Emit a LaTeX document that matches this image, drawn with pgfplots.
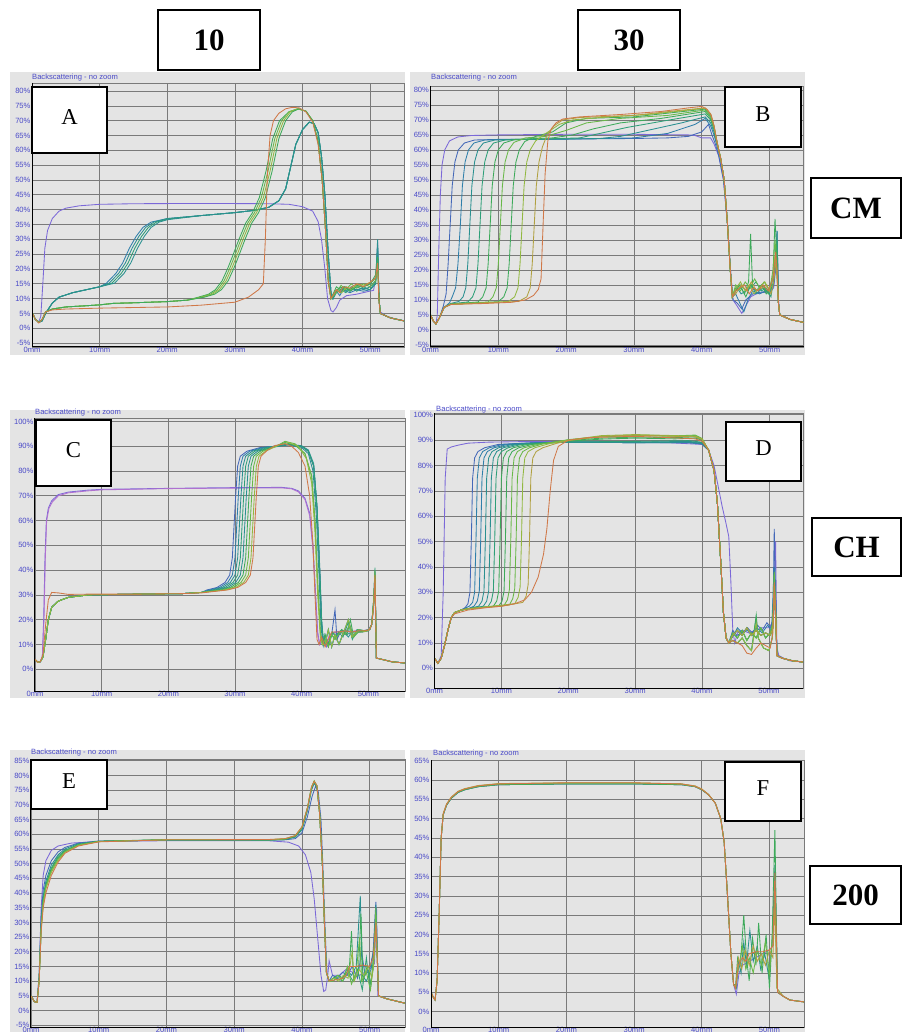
\documentclass[border=0pt]{standalone}
\usepackage{fontspec}
\setmainfont{Liberation Serif}
\newfontfamily\sans{Liberation Sans}
\usepackage{pgfplots}
\pgfplotsset{compat=1.18}

\definecolor{bggray}{HTML}{E4E4E4}
\definecolor{gridc}{HTML}{7A7A7A}
\definecolor{tickblue}{HTML}{4A4AC8}
\definecolor{cPu}{HTML}{7B68D8}
\definecolor{cPk}{HTML}{B070D0}
\definecolor{cBl}{HTML}{4468B8}
\definecolor{cSb}{HTML}{2F7FAA}
\definecolor{cTe}{HTML}{2A9090}
\definecolor{cTg}{HTML}{2E9F78}
\definecolor{cGr}{HTML}{3DAA5A}
\definecolor{cLg}{HTML}{68B848}
\definecolor{cYg}{HTML}{92B840}
\definecolor{cOl}{HTML}{B0A040}
\definecolor{cOr}{HTML}{D07848}

\newcommand\tickfont{\sans\fontsize{7.6}{8}\selectfont}

\pgfplotsset{
  turbi/.style={
    scale only axis, anchor=north west,
    xmin=0, xmax=55,
    xtick={0,10,20,30,40,50},
    xticklabels={0mm,10mm,20mm,30mm,40mm,50mm},
    grid=major, major grid style={draw=gridc, line width=0.65pt},
    major tick length=0pt,
    axis line style={draw=gridc, line width=0.65pt},
    tick label style={font=\tickfont, text=tickblue},
    xticklabel style={yshift=3pt},
    yticklabel style={xshift=2pt},
    clip mode=individual,
    every axis plot/.append style={line width=0.85pt},
  },
  pct5/.style={ytick={-5,0,...,85},
    yticklabels={-5\%,0\%,5\%,10\%,15\%,20\%,25\%,30\%,35\%,40\%,45\%,50\%,55\%,60\%,65\%,70\%,75\%,80\%,85\%}},
  pct10/.style={ytick={0,10,...,100},
    yticklabels={0\%,10\%,20\%,30\%,40\%,50\%,60\%,70\%,80\%,90\%,100\%}},
}

\newcommand\blackframe{\draw[black, line width=1pt] (rel axis cs:0,1) -- (rel axis cs:0,0) -- (rel axis cs:1,0);}

\begin{document}
\begin{tikzpicture}
\path[use as bounding box] (0pt,0pt) rectangle (902pt,-1032pt);

% grey windows
\fill[bggray] (10pt,-72pt) rectangle (405pt,-355pt);
\fill[bggray] (410pt,-72pt) rectangle (805pt,-355pt);
\fill[bggray] (10pt,-410pt) rectangle (405pt,-698pt);
\fill[bggray] (410pt,-410pt) rectangle (805pt,-698pt);
\fill[bggray] (10pt,-750pt) rectangle (405pt,-1032pt);
\fill[bggray] (410pt,-750pt) rectangle (805pt,-1032pt);

\foreach \tx/\ty in {32/77.5, 431/77.5, 35/413, 436/410, 31/752.5, 433/754}
  \node[anchor=west, font=\tickfont, text=tickblue, inner sep=0] at (\tx pt,-\ty pt) {Backscattering - no zoom};

% ---------------- A ----------------
\begin{axis}[turbi, pct5, at={(32pt,-83pt)}, width=372pt, height=264pt, ymin=-6.3, ymax=82.7]
\addplot[cPu] coordinates {(0,5.5)(0.5,3)(1,2.2)(1.3,4)(1.6,15)(1.9,27)(2.3,33)(3,37)(4,39.5)(5,40.5)(7,41.3)(10,41.8)(15,42)(25,42.1)(35,42)(38,41.8)(40,41)(41.5,39.5)(42.3,36)(42.8,30)(43.3,20)(43.7,10)(44.2,6)(44.5,5.5)(45,7)(45.5,9.5)(46.5,11)(48,11.5)(49.5,12.3)(50.5,12.8)(50.9,18)(51.1,29)(51.3,10)(51.5,5.5)(52.5,4)(54,3)(55,2.6)};
\addplot[cSb] coordinates {(0,5.5)(0.5,3)(1,2)(1.5,2.5)(2,5)(3,8.5)(4,10.5)(6,12)(8,13)(10,14)(11,15.2)(12.4,18.5)(13.4,22)(14.4,27)(15.4,31)(16.4,34)(17.6,35.8)(20,37)(25,38)(30,39)(33,39.8)(35,40.8)(36.5,43)(37.5,47)(38.3,55)(39,62)(40,67)(41,69.5)(41.7,69)(42.3,66)(42.8,58)(43.3,45)(43.8,25)(44.2,12)(44.5,10)(45,12.5)(45.5,11)(46,13)(47,12)(48,13)(49,12.5)(50,13)(50.8,15)(51.1,27)(51.3,10)(51.5,5)(53,3.5)(55,2.5)};
\addplot[cTe] coordinates {(0,5.5)(0.5,3)(1,2)(1.5,2.5)(2,5)(3,8.5)(4,10.5)(6,12)(8,13)(10,14)(11.4,15.2)(12.8,18.5)(13.8,22)(14.8,27)(15.8,31)(16.8,34)(18,35.8)(20,37)(25,38)(30,39)(33,39.8)(35,40.8)(36.5,43)(37.5,47)(38.3,55)(39,62)(40,67)(41,69.5)(41.7,69)(42.3,66)(42.8,58)(43.3,45)(43.8,25)(44.2,12)(44.5,10)(45,13)(45.6,12)(46.2,14)(47,12.5)(48,14)(49,13)(50,14)(50.8,16)(51.1,30)(51.3,10)(51.5,5)(53,3.5)(55,2.5)};
\addplot[cTg] coordinates {(0,5.5)(0.5,3)(1,2)(1.5,2.5)(2,5)(3,8.5)(4,10.5)(6,12)(8,13)(10,14)(11.8,15.2)(13.2,18.5)(14.2,22)(15.2,27)(16.2,31)(17.2,34)(18.4,35.8)(20,36.8)(25,38)(30,39)(33,39.8)(35,40.8)(36.5,43)(37.5,47)(38.3,55)(39,62)(40,67)(41,69.5)(41.7,69)(42.3,66)(42.8,58)(43.3,45)(43.8,25)(44.2,12)(44.5,10)(45,12)(45.7,13)(46.4,12)(47.2,14)(48,12.5)(49,14)(50,13)(50.8,15)(51.1,26)(51.3,10)(51.5,5)(53,3.5)(55,2.5)};
\addplot[cTe] coordinates {(0,5.5)(0.5,3)(1,2)(1.5,2.5)(2,5)(3,8.5)(4,10.5)(6,12)(8,13)(10,14)(12.2,15.2)(13.6,18.5)(14.6,22)(15.6,27)(16.6,31)(17.6,34)(18.8,35.8)(20,36.6)(25,38)(30,39)(33,39.8)(35,40.8)(36.5,43)(37.5,47)(38.3,55)(39,62)(40,67)(41,69.5)(41.7,69)(42.3,66)(42.8,58)(43.3,45)(43.8,25)(44.2,12)(44.5,10)(45,12.5)(45.6,14)(46.3,12.5)(47,13.5)(48,13)(49,13.5)(50,13)(50.8,16)(51.1,28)(51.3,10)(51.5,5)(53,3.5)(55,2.5)};
\addplot[cGr] coordinates {(0,5.5)(0.5,3)(1,2)(1.5,3)(2,5.5)(3,6.5)(5,7.2)(8,7.6)(10,7.9)(12,8.4)(15,8.6)(20,9)(23,9.5)(24.6,10.5)(26.1,11.5)(27.1,13)(28.1,16)(28.9,20)(29.6,24)(30.6,30)(31.6,35.5)(32.6,39)(33.6,44)(34.6,53)(35.6,64)(36.6,70)(38,73)(39.3,74)(40.5,73.2)(41.5,70)(42.3,63)(42.9,50)(43.4,33)(43.8,16)(44.2,10)(45,13)(46,14)(47,13)(48,14.5)(49,14)(50,15)(50.8,17)(51.1,22)(51.3,10)(51.5,5)(53,3.5)(55,2.5)};
\addplot[cLg] coordinates {(0,5.5)(0.5,3)(1,2)(1.5,3)(2,5.5)(3,6.5)(5,7.2)(8,7.6)(10,7.9)(12,8.4)(15,8.6)(20,9)(23,9.5)(24.9,10.5)(26.4,11.5)(27.4,13)(28.4,16)(29.2,20)(29.9,24)(30.9,30)(31.9,35.5)(32.9,39)(33.9,44)(34.9,53)(35.9,64)(36.9,70)(38,73)(39.3,74)(40.5,73.2)(41.5,70)(42.3,63)(42.9,50)(43.4,33)(43.8,16)(44.2,10)(45,12)(45.7,14.5)(46.4,13)(47.2,15)(48,13.5)(49,15)(50,14)(50.8,16)(51.1,21)(51.3,10)(51.5,5)(53,3.5)(55,2.5)};
\addplot[cYg] coordinates {(0,5.5)(0.5,3)(1,2)(1.5,3)(2,5.5)(3,6.5)(5,7.2)(8,7.6)(10,7.9)(12,8.4)(15,8.6)(20,9)(23,9.5)(25.2,10.5)(26.7,11.5)(27.7,13)(28.7,16)(29.5,20)(30.2,24)(31.2,30)(32.2,35.5)(33.2,39)(34.2,44)(35.2,53)(36.2,64)(37.2,70)(38.2,73)(39.3,74)(40.5,73.2)(41.5,70)(42.3,63)(42.9,50)(43.4,33)(43.8,16)(44.2,10)(45,13)(45.8,12)(46.5,14)(47.3,13)(48.1,15)(49,14.5)(50,15.5)(50.8,17)(51.1,23)(51.3,10)(51.5,5)(53,3.5)(55,2.5)};
\addplot[cGr] coordinates {(0,5.5)(0.5,3)(1,2)(1.5,3)(2,5.5)(3,6.5)(5,7.2)(8,7.6)(10,7.9)(12,8.4)(15,8.6)(20,9)(23,9.5)(25.5,10.5)(27,11.5)(28,13)(29,16)(29.8,20)(30.5,24)(31.5,30)(32.5,35.5)(33.5,39)(34.5,44)(35.5,53)(36.5,64)(37.5,70)(38.5,73)(39.5,74)(40.5,73.2)(41.5,70)(42.3,63)(42.9,50)(43.4,33)(43.8,16)(44.2,10)(45,14)(45.6,13)(46.3,14)(47,12.5)(48,14)(49,14)(50,15)(50.8,18)(51.1,24)(51.3,10)(51.5,5)(53,3.5)(55,2.5)};
\addplot[cOr] coordinates {(0,5.5)(0.5,3)(1,1.8)(1.5,3)(2,5.5)(3,6.2)(5,6.5)(10,6.8)(15,7)(20,7.2)(25,7.8)(30,8.8)(32,10.5)(33.5,13)(34.2,15)(34.5,30)(34.8,52)(35.2,65)(35.7,70)(36.5,72.5)(37.5,74)(38.5,74.5)(39.5,74.3)(40.5,73)(41.5,69.5)(42.3,62)(42.9,50)(43.4,33)(43.8,16)(44.2,10)(45,13)(45.5,12)(46,14)(47,13.5)(48,15)(49,14)(50,15.5)(50.8,17)(51.1,22)(51.3,9)(51.5,5)(53,3.5)(55,2.5)};
\blackframe
\end{axis}

% ---------------- B ----------------
\begin{axis}[turbi, pct5, at={(430.5pt,-86pt)}, width=373pt, height=261pt, ymin=-5.7, ymax=81.3, ytick={-5,0,...,80},
  yticklabels={-5\%,0\%,5\%,10\%,15\%,20\%,25\%,30\%,35\%,40\%,45\%,50\%,55\%,60\%,65\%,70\%,75\%,80\%},
  xticklabel style={yshift=0.5pt}]
\addplot[cPu] coordinates {(0,5)(0.4,3)(0.8,2)(1,5)(1.2,25)(1.45,45)(1.7,55)(2.1,60)(2.8,63)(4,64.3)(6,64.8)(10,65)(20,65.2)(30,65.2)(38,65)(39,64.8)(40,64)(41.3,64)(41.8,62)(42.5,58)(43.2,50)(43.8,35)(44.3,18)(44.6,10)(45.2,8)(45.9,5.5)(46.5,8)(47.2,11)(48,12)(49,12.5)(50,12.5)(50.6,14)(50.9,20)(51.1,30)(51.3,10)(51.5,5)(53,3.5)(55,2.5)};
\addplot[cBl] coordinates {(0,5)(0.4,3)(0.8,2)(1.3,4)(1.9,8)(2.3,12)(2.6,22)(2.9,35)(3.2,48)(3.6,56)(4.1,60)(5,62.3)(6.5,63.3)(10,63.5)(20,63.6)(30,63.8)(35,64)(38,64.5)(40,66)(41,68.5)(41.5,65)(42,62)(42.5,58)(43.2,50)(43.8,35)(44.3,18)(44.6,10)(45.2,9)(45.9,7)(46.5,10)(47.5,12)(48.5,12.5)(50,13)(50.6,15)(50.9,22)(51.1,33)(51.3,10)(51.5,5)(53,3.5)(55,2.5)};
\addplot[cSb] coordinates {(0,5)(0.4,3)(0.8,2)(1.3,4)(2,7.5)(2.8,9)(3.2,11)(3.7,14)(4.05,22)(4.4,35)(4.7,48)(5.1,56)(5.6,60)(6.4,62.3)(8,63.3)(12,63.5)(20,63.6)(30,64)(35,65.5)(39,68.5)(40.5,70.5)(41.3,68)(41.8,65)(42.3,61)(42.8,57)(43.3,50)(43.8,35)(44.2,20)(44.5,11)(45,12)(45.6,9)(46.2,6)(46.8,10)(47.5,13)(48.5,12)(49.5,13)(50.5,14)(50.9,22)(51.1,30)(51.3,9)(51.5,5)(53,3.5)(55,2.5)};
\addplot[cTe] coordinates {(0,5)(0.4,3)(0.8,2)(1.3,4)(2,7.5)(3,8.8)(4.2,9.5)(4.8,11)(5.2,14)(5.5,22)(5.8,35)(6.1,48)(6.5,56)(7,60)(7.8,62.3)(9.5,63.3)(15,63.5)(25,63.8)(28,64.5)(32,66.5)(37,69)(40.5,71)(41.3,69)(41.8,66)(42.3,61)(42.8,57)(43.3,50)(43.8,35)(44.2,20)(44.5,11)(45.2,14)(45.8,12)(46.5,13)(47.3,15)(48,12)(49,14)(50,12)(50.6,16)(50.9,25)(51.1,33)(51.3,9)(51.5,5)(53,3.5)(55,2.5)};
\addplot[cTg] coordinates {(0,5)(0.4,3)(0.8,2)(1.3,4)(2,7.5)(3,8.7)(5.5,9.3)(6.2,11)(6.7,14)(7,22)(7.3,35)(7.6,48)(8,56)(8.5,60)(9.3,62.3)(11,63.3)(16,63.6)(22,64)(25,65.5)(29,67.5)(34,69.5)(40.5,72)(41.3,70)(41.8,67)(42.3,62)(42.8,57)(43.3,50)(43.8,35)(44.2,20)(44.5,11)(45,14)(45.8,15)(46.5,13)(47.2,14)(48,16)(48.8,13)(49.5,14)(50.2,11)(50.6,17)(50.9,24)(51.1,30)(51.3,9)(51.5,5)(53,3.5)(55,2.5)};
\addplot[cGr] coordinates {(0,5)(0.4,3)(0.8,2)(1.3,4)(2,7.5)(3,8.6)(7,9.3)(7.7,11)(8.2,14)(8.5,22)(8.8,35)(9.1,48)(9.5,56)(10,60)(10.8,62.3)(12.5,63.5)(18,64)(21,65)(24,67)(28,69)(34,70.5)(40.5,72.8)(41.3,70.5)(41.8,67)(42.3,62)(42.8,57)(43.3,50)(43.8,35)(44.2,20)(44.5,11)(45,13)(45.6,15)(46.3,12)(46.9,16)(47.2,32)(47.5,14)(48.3,13)(49,15)(49.8,12)(50.5,18)(50.8,37)(51,28)(51.3,9)(51.5,5)(53,3.5)(55,2.5)};
\addplot[cLg] coordinates {(0,5)(0.4,3)(0.8,2)(1.3,4)(2,7.5)(3,8.6)(8.5,9.3)(9.2,11)(9.7,14)(10,22)(10.3,35)(10.6,48)(11,56)(11.5,60)(12.3,62.5)(14,64)(17,64.5)(20,66.5)(23,69)(28,70.5)(35,71.5)(40.5,73.3)(41.3,71)(41.8,67.5)(42.3,62)(42.8,57)(43.3,50)(43.8,35)(44.2,20)(44.5,11)(45,15)(45.7,13)(46.4,16)(47.1,14)(47.8,17)(48.5,14)(49.2,16)(50,13)(50.5,20)(50.8,30)(51,24)(51.3,9)(51.5,5)(53,3.5)(55,2.5)};
\addplot[cGr] coordinates {(0,5)(0.4,3)(0.8,2)(1.3,4)(2,7.5)(3,8.5)(10,9.4)(10.8,11)(11.3,14)(11.6,22)(11.9,35)(12.2,48)(12.6,56)(13.1,60)(13.9,62.8)(15.5,64.5)(18,66)(20,69)(23,70.5)(30,71)(36,72.5)(40.5,73.6)(41.3,71.5)(41.8,68)(42.3,62)(42.8,57)(43.3,50)(43.8,35)(44.2,20)(44.5,11)(45,13)(45.8,14)(46.5,11)(47.2,15)(48,13)(48.8,15)(49.5,12)(50.2,14)(50.6,19)(50.9,26)(51.1,22)(51.3,9)(51.5,5)(53,3.5)(55,2.5)};
\addplot[cYg] coordinates {(0,5)(0.4,3)(0.8,2)(1.3,4)(2,7.5)(3,8.5)(11.5,9.5)(12.4,11)(12.9,14)(13.2,22)(13.5,35)(13.8,48)(14.2,56)(14.7,60)(15.5,63)(17,65.5)(19,68.5)(21,70)(25,70.8)(32,71.8)(37,73)(40.5,73.9)(41.3,72)(41.8,68)(42.3,62)(42.8,57)(43.3,50)(43.8,35)(44.2,20)(44.5,11)(45.1,14)(45.7,16)(46.4,13)(47,15)(47.7,12)(48.5,14)(49.3,16)(50,13)(50.5,18)(50.8,25)(51,20)(51.3,9)(51.5,5)(53,3.5)(55,2.5)};
\addplot[cOl] coordinates {(0,5)(0.4,3)(0.8,2)(1.3,4)(2,7.5)(3,8.5)(13,9.5)(14.2,11)(14.7,14)(15,22)(15.3,35)(15.6,48)(16,56)(16.5,61)(17.2,65)(18.2,68)(19.5,70)(22,70.8)(30,71.5)(36,73)(40.5,74)(41.3,72)(41.8,68)(42.3,62)(42.8,57)(43.3,50)(43.8,35)(44.2,20)(44.5,11)(45,12)(45.8,15)(46.6,13)(47.3,16)(48.1,13)(48.9,14)(49.6,15)(50.2,12)(50.6,16)(50.9,22)(51.1,20)(51.3,9)(51.5,5)(53,3.5)(55,2.5)};
\addplot[cOr] coordinates {(0,5)(0.4,3)(0.8,2)(1.3,4)(2,7.5)(3,8.5)(8,8.8)(12,9.2)(14,10)(15.2,11.5)(15.9,13.5)(16.3,17)(16.6,35)(16.9,52)(17.3,63)(17.8,67)(18.5,69)(19.5,70.3)(22,71)(28,71.8)(34,72.8)(38,74)(40,74.5)(40.8,73.5)(41.4,71.5)(41.8,68)(42.3,62)(42.8,57)(43.3,50)(43.8,35)(44.2,20)(44.5,11)(45,13)(45.6,14)(46.3,15)(47,12)(47.6,14)(48.3,13)(49,15)(49.8,13)(50.5,17)(50.9,26)(51.1,20)(51.3,9)(51.5,5)(53,3.5)(55,2.5)};
\blackframe
\end{axis}

% ---------------- C ----------------
\begin{axis}[turbi, pct10, at={(35pt,-418pt)}, width=370pt, height=273pt, xmax=55.5, ymin=-8.8, ymax=101.4]
\addplot[cPu] coordinates {(0,4)(0.4,2.8)(0.8,3)(1.1,5)(1.3,20)(1.5,45)(1.7,60)(2,65)(2.5,68)(3.5,70.5)(5,71.5)(8,72.3)(10,72.6)(20,73)(30,73.3)(37,73.4)(38.5,73)(39.5,72)(40.5,69)(41.2,63)(41.7,50)(42.1,30)(42.4,15)(42.7,10)(43.2,12)(43.7,9)(44.3,13)(45,15)(45.6,14)(46.5,16)(47.5,15)(48.5,15.5)(49.5,15.5)(50.2,16)(50.5,18)};
\addplot[cPk] coordinates {(0,4)(0.4,2.8)(0.8,3)(1.1,5)(1.35,20)(1.55,45)(1.75,60)(2.1,65)(2.6,67.5)(3.5,70)(5,71.2)(8,72)(10,72.4)(20,72.9)(30,73.1)(37,73.2)(38.5,72.8)(39.5,71.6)(40.5,68.5)(41.2,62)(41.7,48)(42.1,28)(42.4,14)(42.7,10)(43.1,13)(43.6,10)(44.2,14)(45,15)(46,15.5)(47,15)(48,15.5)(49,15.5)(50,16)(50.5,18)};
\addplot[cBl] coordinates {(0,4)(0.4,2.8)(0.8,3)(1.2,5)(1.6,12)(2,20)(2.5,25)(3.5,27.5)(5,29)(8,30)(15,30.3)(22,30.5)(25,31)(25.8,32)(27.3,33)(28.5,35)(29.2,38)(29.6,45)(29.8,55)(30.1,70)(30.4,82)(30.8,86)(31.8,88)(33.8,89.5)(36,90)(38,90.8)(40,90)(41,88)(41.8,82)(42.3,65)(42.7,40)(43,18)(43.3,10)(43.6,12)(44,9)(44.5,14)(45,24)(45.3,12)(45.8,15)(46.5,14)(47.2,18)(47.8,13)(48.5,16)(49.5,15.5)(50.2,16)(50.5,18)(50.8,28)(51,40)(51.2,4.5)(52,4)(53.5,3)(55.5,2.5)};
\addplot[cSb] coordinates {(0,4)(0.4,2.8)(0.8,3)(1.2,5)(1.6,12)(2,20)(2.5,25)(3.5,27.5)(5,29)(8,30)(15,30.3)(22,30.5)(25,31)(26.2,32)(27.7,33)(28.9,35)(29.6,38)(30,45)(30.2,55)(30.5,70)(30.8,82)(31.2,86)(32.2,88)(34.2,89.5)(36,90)(38,90.8)(40,90)(41,88)(41.8,82)(42.3,65)(42.7,40)(43,18)(43.3,10)(43.5,10)(44,16)(44.5,9)(45,14)(45.6,10)(46.3,15)(47,20)(47.5,13)(48.2,15)(49,15)(50,15.5)(50.5,18)(50.8,26)(51,38)(51.2,4.5)(52,4)(53.5,3)(55.5,2.5)};
\addplot[cTe] coordinates {(0,4)(0.4,2.8)(0.8,3)(1.2,5)(1.6,12)(2,20)(2.5,25)(3.5,27.5)(5,29)(8,30)(15,30.3)(22,30.5)(25,31)(26.6,32)(28.1,33)(29.3,35)(30,38)(30.4,45)(30.6,55)(30.9,70)(31.2,82)(31.6,86)(32.6,88)(34.6,89.5)(36,90)(38,90.8)(40,90.2)(41,88.5)(41.8,83)(42.3,66)(42.7,42)(43,20)(43.3,10)(43.5,14)(44,10)(44.6,15)(45.2,13)(46,16)(46.8,14)(47.5,15)(48.5,15)(49.5,15.5)(50.2,16)(50.5,18)(50.8,27)(51,36)(51.2,4.5)(52,4)(53.5,3)(55.5,2.5)};
\addplot[cTg] coordinates {(0,4)(0.4,2.8)(0.8,3)(1.2,5)(1.6,12)(2,20)(2.5,25)(3.5,27.5)(5,29)(8,30)(15,30.3)(22,30.5)(25,31)(27,32)(28.5,33)(29.7,35)(30.4,38)(30.8,45)(31,55)(31.3,70)(31.6,82)(32,86)(33,88)(35,89.5)(38,90.8)(40,90)(41,88)(41.8,82)(42.3,65)(42.7,40)(43,18)(43.3,10)(43.6,12)(44,9)(44.5,14)(45,12)(45.5,15)(46.2,13)(47,19)(47.6,12)(48.3,16)(49.3,15.5)(50.2,16)(50.5,18)(50.8,28)(51,41)(51.2,4.5)(52,4)(53.5,3)(55.5,2.5)};
\addplot[cTe] coordinates {(0,4)(0.4,2.8)(0.8,3)(1.2,5)(1.6,12)(2,20)(2.5,25)(3.5,27.5)(5,29)(8,30)(15,30.3)(22,30.5)(25,31)(27.4,32)(28.9,33)(30.1,35)(30.8,38)(31.2,45)(31.4,55)(31.7,70)(32,82)(32.4,86)(33.4,88)(35.4,89.5)(38,90.5)(40,89.5)(41,87)(41.7,80)(42.2,62)(42.6,38)(42.9,17)(43.2,10)(43.5,10)(44,16)(44.5,9)(45,14)(45.6,10)(46.3,15)(47,13)(47.5,15)(48.2,15)(49,15)(50,15.5)(50.5,18)(50.8,26)(51,38)(51.2,4.5)(52,4)(53.5,3)(55.5,2.5)};
\addplot[cGr] coordinates {(0,4)(0.4,2.8)(0.8,3)(1.2,5)(1.6,12)(2,20)(2.5,25)(3.5,27.5)(5,29)(8,30)(15,30.3)(22,30.5)(25,31)(27.8,32)(29.3,33)(30.5,35)(31.2,38)(31.6,45)(31.8,55)(32.1,70)(32.4,82)(32.8,86)(33.8,88)(35.8,89.8)(37.5,91.5)(39,90.5)(40.5,87)(41.5,78)(42,60)(42.4,35)(42.8,15)(43.1,10)(43.5,14)(44,10)(44.6,15)(45.2,13)(46,16)(46.8,14)(47.3,20)(47.8,13)(48.5,15)(49.5,15.5)(50.2,16)(50.5,18)(50.8,27)(51,36)(51.2,4.5)(52,4)(53.5,3)(55.5,2.5)};
\addplot[cLg] coordinates {(0,4)(0.4,2.8)(0.8,3)(1.2,5)(1.6,12)(2,20)(2.5,25)(3.5,27.5)(5,29)(8,30)(15,30.3)(22,30.5)(25,31)(28.2,32)(29.7,33)(30.9,35)(31.6,38)(32,45)(32.2,55)(32.5,70)(32.8,82)(33.2,86)(34.2,88)(36.2,90)(37.5,92)(39,91)(40.5,87)(41.5,78)(42,60)(42.4,35)(42.8,15)(43.1,10)(43.6,12)(44,9)(44.5,14)(45,12)(45.8,15)(46.5,14)(47.2,18)(47.8,13)(48.5,16)(49.5,15.5)(50.2,16)(50.5,18)(50.8,28)(51,40)(51.2,4.5)(52,4)(53.5,3)(55.5,2.5)};
\addplot[cYg] coordinates {(0,4)(0.4,2.8)(0.8,3)(1.2,5)(1.6,12)(2,20)(2.5,25)(3.5,27.5)(5,29)(8,30)(15,30.3)(22,30.5)(25,31)(28.6,32)(30.1,33)(31.3,35)(32,38)(32.4,45)(32.6,55)(32.9,70)(33.2,82)(33.6,86)(34.6,88)(36.6,90.5)(38,91.5)(39.5,90)(40.7,85)(41.5,75)(42,55)(42.4,30)(42.8,13)(43.1,10)(43.5,10)(44,16)(44.5,9)(45,14)(45.6,10)(46.3,15)(47,20)(47.5,13)(48.2,15)(49,15)(50,15.5)(50.5,18)(50.8,26)(51,38)(51.2,4.5)(52,4)(53.5,3)(55.5,2.5)};
\addplot[cOr] coordinates {(0,4)(0.4,2.8)(0.8,3)(1.2,6)(1.6,18)(2,28)(2.5,31)(3.5,30.8)(5,30.2)(8,30.3)(15,30.3)(22,30.5)(25,30.8)(28.9,32)(30.4,33)(31.6,35)(32.3,38)(32.7,45)(32.9,55)(33.2,70)(33.5,82)(33.9,86)(34.9,88.5)(36,90.3)(37.5,91)(38.5,90)(39.5,87.5)(40.5,82)(41.2,70)(41.7,50)(42,30)(42.3,12)(42.6,10)(43,13)(43.5,9)(44,12)(44.5,15)(45.5,15)(46.5,15.5)(47.5,15)(48.5,15.5)(49.5,15.5)(50.2,16)(50.5,18)(50.8,25)(51,38)(51.2,4.5)(52,4)(53.5,3)(55.5,2.5)};
\blackframe
\end{axis}

% ---------------- D ----------------
\begin{axis}[turbi, pct10, at={(434.5pt,-413pt)}, width=368.5pt, height=275pt, xmax=55.1, ymin=-7.75, ymax=100.7]
\addplot[cPu] coordinates {(0,4)(0.5,2)(1,5)(1.3,30)(1.6,75)(1.9,86.5)(2.5,87.3)(3.5,88)(5,88.8)(8,89.2)(15,89.5)(25,89.3)(35,89)(40,88.3)(41,86)(41.8,80)(42.4,72)(43,64)(43.6,57)(44,52)(44.3,35)(44.6,15)(44.9,10)(45.3,14)(46,15)(47,14)(48,15)(49,16)(50,16)(50.5,18)(50.8,35)(51,50)(51.2,8)(51.5,5)(53,3)(55.1,2.5)};
\addplot[cBl] coordinates {(0,4)(0.5,2)(1,4)(1.5,9)(2,15)(2.5,20)(3,22)(4,23)(4.6,24)(5,25.5)(5.3,30)(5.5,50)(5.7,75)(6,83)(6.5,85.5)(7.5,87)(9.5,88.3)(15,89)(20,89.2)(30,89)(38,89)(40,88.5)(41,86)(41.8,78)(42.3,65)(42.8,42)(43.2,22)(43.6,12)(44,10)(44.6,15)(45.2,13)(46,14)(46.8,16)(47.5,14)(48.3,17)(49,15)(49.7,18)(50.3,16)(50.6,20)(50.8,55)(51,30)(51.2,5)(52,4)(53.5,3)(55.1,2.5)};
\addplot[cSb] coordinates {(0,4)(0.5,2)(1,4)(1.5,9)(2,15)(2.5,20)(3,22)(4,23)(5.2,24.5)(5.7,26)(6,30)(6.2,50)(6.4,75)(6.7,83)(7.2,85.5)(8.2,87)(10.2,88.3)(15,89)(20,89.3)(30,89.2)(38,89.2)(40,88.8)(41,86)(41.8,78)(42.3,65)(42.8,42)(43.2,22)(43.6,12)(44,10)(44.7,13)(45.3,16)(46,14)(46.8,15)(47.5,13)(48.2,16)(49,14)(49.8,17)(50.4,15)(50.8,40)(51,28)(51.2,5)(52,4)(53.5,3)(55.1,2.5)};
\addplot[cSb] coordinates {(0,4)(0.5,2)(1,4)(1.5,9)(2,15)(2.5,20)(3,22)(4,23)(5,23.5)(5.9,24.5)(6.4,26.5)(6.7,30.5)(6.9,50)(7.1,75)(7.4,83)(7.9,85.5)(8.9,87)(10.9,88.3)(15,88.9)(20,89.2)(30,89)(38,89)(40,88.5)(41,86)(41.8,78)(42.3,65)(42.8,42)(43.2,22)(43.6,12)(44,10)(44.6,13)(45.3,15)(46,13)(46.7,16)(47.4,13)(48.1,15)(48.8,13)(49.5,14)(50.2,13)(50.6,16)(50.8,30)(51,20)(51.2,5)(52,4)(53.5,3)(55.1,2.5)};
\addplot[cTe] coordinates {(0,4)(0.5,2)(1,4)(1.5,9)(2,15)(2.5,20)(3,22)(4,23)(5,23.5)(6.6,24.5)(7.1,26.5)(7.4,30.5)(7.6,50)(7.8,75)(8.1,83)(8.6,85.5)(9.6,87)(11.6,88.3)(15,88.8)(20,89.2)(30,89)(38,89.2)(40,88.7)(41,86)(41.8,78)(42.3,65)(42.8,42)(43.2,22)(43.6,12)(44,10)(44.6,14)(45.3,12)(46,15)(46.7,11)(47.4,14)(48.1,12)(48.8,16)(49.5,12)(50.2,14)(50.6,18)(50.8,38)(51,25)(51.2,5)(52,4)(53.5,3)(55.1,2.5)};
\addplot[cTe] coordinates {(0,4)(0.5,2)(1,4)(1.5,9)(2,15)(2.5,20)(3,22)(4,23)(5,23.5)(7.3,24.5)(7.8,26.5)(8.1,30.5)(8.3,50)(8.5,75)(8.8,83)(9.3,85.5)(10.3,87)(12.3,88.3)(20,89.3)(30,89.2)(38,89.5)(40,89)(41,86)(41.8,78)(42.3,65)(42.8,42)(43.2,22)(43.6,12)(44,10)(44.6,11)(45.3,10)(46,12)(46.7,9)(47.4,7)(48.1,20)(48.4,12)(49.2,8)(50,7)(50.5,12)(50.8,33)(51,22)(51.2,5)(52,4)(53.5,3)(55.1,2.5)};
\addplot[cTg] coordinates {(0,4)(0.5,2)(1,4)(1.5,9)(2,15)(2.5,20)(3,22)(4,23)(5,23.5)(8,24.3)(8.5,26.5)(8.8,30.5)(9,50)(9.2,75)(9.5,83)(10,85.5)(11,87)(13,88.3)(20,89.3)(30,89.5)(38,89.8)(40,89.2)(41,86)(41.8,78)(42.3,65)(42.8,42)(43.2,22)(43.6,12)(44,10)(44.6,13)(45.3,15)(46,13)(46.7,16)(47.4,13)(48.1,15)(48.8,13)(49.5,14)(50.2,13)(50.6,16)(50.8,30)(51,20)(51.2,5)(52,4)(53.5,3)(55.1,2.5)};
\addplot[cGr] coordinates {(0,4)(0.5,2)(1,4)(1.5,9)(2,15)(2.5,20)(3,22)(4,23)(5,23.5)(8.8,24.5)(9.3,26.5)(9.6,30.5)(9.8,50)(10,75)(10.3,83)(10.8,85.5)(11.8,87)(13.8,88.3)(20,89.6)(25,90.4)(30,90.8)(36,90.5)(39,90.8)(40,90)(41,86)(41.8,78)(42.3,65)(42.8,42)(43.2,22)(43.6,12)(44,10)(44.6,14)(45.3,12)(46,15)(46.7,11)(47.4,14)(48.1,12)(48.8,16)(49.5,12)(50.2,14)(50.6,18)(50.8,38)(51,25)(51.2,5)(52,4)(53.5,3)(55.1,2.5)};
\addplot[cGr] coordinates {(0,4)(0.5,2)(1,4)(1.5,9)(2,15)(2.5,20)(3,22)(4,23)(5,23.5)(9.6,24.6)(10.1,26.5)(10.4,30.5)(10.6,50)(10.8,75)(11.1,83)(11.6,85.5)(12.6,87)(14.6,88.3)(20,89.8)(25,90.8)(30,91.2)(36,91)(39,91.3)(40,90.2)(41,86)(41.8,78)(42.3,65)(42.8,42)(43.2,22)(43.6,12)(44,10)(44.6,11)(45.3,10)(46,12)(46.7,9)(47.4,7)(48.1,21)(48.4,12)(49.2,8)(50,7)(50.5,12)(50.8,33)(51,22)(51.2,5)(52,4)(53.5,3)(55.1,2.5)};
\addplot[cLg] coordinates {(0,4)(0.5,2)(1,4)(1.5,9)(2,15)(2.5,20)(3,22)(4,23)(5,23.5)(10.4,24.8)(10.9,27)(11.2,31)(11.4,50)(11.6,75)(11.9,83)(12.4,85.5)(13.4,87)(15.4,88.3)(20,90)(25,91.3)(30,91.8)(36,91.5)(39,91.8)(40,90.5)(41,86)(41.8,78)(42.3,65)(42.8,42)(43.2,22)(43.6,12)(44,10)(44.6,13)(45.3,15)(46,13)(46.7,16)(47.4,13)(48.1,15)(48.8,13)(49.5,14)(50.2,13)(50.6,16)(50.8,30)(51,20)(51.2,5)(52,4)(53.5,3)(55.1,2.5)};
\addplot[cLg] coordinates {(0,4)(0.5,2)(1,4)(1.5,9)(2,15)(2.5,20)(3,22)(4,23)(5,23.5)(11.2,25)(11.7,27.5)(12,31.5)(12.2,50)(12.4,75)(12.7,83)(13.2,85.5)(14.2,87)(16.2,88.5)(20,90.2)(25,91.5)(30,92)(36,91.7)(39,92)(40,90.7)(41,86)(41.8,78)(42.3,65)(42.8,42)(43.2,22)(43.6,12)(44,10)(44.6,14)(45.3,12)(46,15)(46.7,11)(47.4,14)(48.1,12)(48.8,16)(49.5,12)(50.2,14)(50.6,18)(50.8,38)(51,25)(51.2,5)(52,4)(53.5,3)(55.1,2.5)};
\addplot[cYg] coordinates {(0,4)(0.5,2)(1,4)(1.5,9)(2,15)(2.5,20)(3,22)(4,23)(5,23.5)(12,25.5)(12.5,28)(12.8,32)(13,50)(13.2,75)(13.5,83)(14,85.5)(15,87)(17,88.5)(20,90)(25,91.8)(30,92.2)(36,91.8)(39,91.5)(40,90.5)(41,86)(41.8,78)(42.3,65)(42.8,42)(43.2,22)(43.6,12)(44,10)(44.6,11)(45.3,10)(46,12)(46.7,9)(47.4,7)(48.1,18)(48.4,12)(49.2,8)(50,7)(50.5,12)(50.8,33)(51,22)(51.2,5)(52,4)(53.5,3)(55.1,2.5)};
\addplot[cOl] coordinates {(0,4)(0.5,2)(1,4)(1.5,9)(2,15)(2.5,20)(3,22)(4,23)(5,23.5)(10,24.5)(13.2,26)(13.7,28.5)(14,33)(14.2,50)(14.4,75)(14.7,83)(15.2,85.5)(16.2,87)(18.2,88.7)(20,89.8)(25,91.5)(30,92)(36,91.5)(39,91.3)(40,90.3)(41,86)(41.8,78)(42.3,65)(42.8,42)(43.2,22)(43.6,12)(44,10)(44.6,13)(45.3,15)(46,13)(46.7,16)(47.4,13)(48.1,15)(48.8,13)(49.5,14)(50.2,13)(50.6,16)(50.8,30)(51,20)(51.2,5)(52,4)(53.5,3)(55.1,2.5)};
\addplot[cOr] coordinates {(0,4)(0.5,2)(1,4)(1.5,9)(2,15)(2.5,20)(3,21.5)(5,23)(8,24)(10,24.5)(12,25.5)(13.5,27)(14.5,30)(15.5,36)(16.3,45)(16.8,55)(17.3,70)(17.8,82)(18.5,87.5)(20,90)(23,91)(30,91.5)(35,91)(39,90.5)(40,89.5)(41,86)(41.8,78)(42.3,65)(42.8,42)(43.2,22)(43.6,12)(44,10)(44.6,11)(45.3,10)(46,9)(46.7,6)(47.4,5.5)(48.1,8)(48.8,10)(49.5,9)(50.2,8)(50.6,14)(50.8,34)(51,22)(51.2,5)(52,4)(53.5,3)(55.1,2.5)};
\blackframe
\end{axis}

% ---------------- E ----------------
\begin{axis}[turbi, pct5, at={(31pt,-759pt)}, width=374pt, height=268pt, xmax=55.2, ymin=-5.6, ymax=85.6]
\addplot[cPu] coordinates {(0,5)(0.5,3)(0.9,2.8)(1.2,12)(1.5,35)(1.8,46)(2.2,51)(3,54.5)(4,56)(6,57)(10,57.5)(20,57.8)(35,57.8)(38,57.3)(39.5,56)(40.5,53)(41.3,47)(41.8,38)(42.3,25)(42.8,12)(43.2,6.5)(43.5,7)(43.8,12)(44,17)(44.5,12)(45.5,12)(46.5,14)(47.5,13)(48.5,12)(50,14)(50.7,16)(51,35)(51.2,5)(52.5,4)(55.2,2.5)};
\addplot[cBl] coordinates {(0,5)(0.5,3)(0.9,2.8)(1.2,12)(1.5,32)(1.8,41)(2.2,46)(3,51)(4,54)(5,55.5)(7,57)(10,57.7)(20,58)(35,58)(37.5,58.1)(39,58.5)(40,60.5)(40.8,66)(41.5,73)(42,76.3)(42.4,74.5)(42.8,65)(43.1,48)(43.4,28)(43.7,12)(44,10)(44.5,12)(45.2,11)(46,13)(46.7,12)(47.4,15)(48.2,11)(48.8,20)(49.3,12)(50,14)(50.5,20)(50.9,37)(51.1,20)(51.3,5)(52.5,4)(55.2,2.5)};
\addplot[cTe] coordinates {(0,5)(0.5,3)(0.9,2.8)(1.2,11)(1.5,30)(1.8,39)(2.2,44)(3,49.5)(4,53)(5,55)(7,56.8)(10,57.6)(20,58)(35,58)(37.5,58.2)(39,59)(40,61.5)(40.8,68)(41.4,75)(41.8,77.3)(42.2,76)(42.6,67)(43,50)(43.3,30)(43.6,13)(44,10)(44.6,11)(45.3,12)(46,11)(46.6,14)(47.3,12)(48,15)(48.6,39)(48.9,12)(49.5,10)(50.2,14)(50.6,22)(50.9,36)(51.1,20)(51.3,5)(52.5,4)(55.2,2.5)};
\addplot[cTg] coordinates {(0,5)(0.5,3)(0.9,2.8)(1.2,10)(1.5,29)(1.8,38)(2.2,43)(3,48.5)(4,52.5)(5,54.5)(7,56.5)(10,57.6)(20,58.1)(35,58)(37.5,58.2)(39,59.2)(40,62)(40.8,68.5)(41.4,75.5)(41.8,77.8)(42.2,76.2)(42.6,67)(43,50)(43.3,30)(43.6,13)(44,10)(44.5,10)(45.2,11)(46,10)(46.8,13)(47.5,10)(48.2,14)(48.9,7)(49.5,18)(50,8)(50.5,14)(50.9,33)(51.1,20)(51.3,5)(52.5,4)(55.2,2.5)};
\addplot[cGr] coordinates {(0,5)(0.5,3)(0.9,2.8)(1.2,10)(1.5,28)(1.8,37)(2.2,42.5)(3,48)(4,52)(5,54.3)(7,56.5)(10,57.6)(20,58.2)(35,58.1)(37.5,58.3)(39,59.3)(40,62.3)(40.8,69)(41.4,76)(41.8,78)(42.2,76.5)(42.6,67)(43,50)(43.3,30)(43.6,13)(44,10)(44.6,11)(45.3,12)(46,11)(46.6,13)(47,15)(47.3,27)(47.6,11)(48.3,12)(48.7,33)(49,10)(49.6,15)(50.2,9)(50.6,20)(50.9,30)(51.1,18)(51.3,5)(52.5,4)(55.2,2.5)};
\addplot[cLg] coordinates {(0,5)(0.5,3)(0.9,2.8)(1.2,10)(1.5,28)(1.8,36.5)(2.2,42)(3,47.5)(4,51.5)(5,54)(7,56.3)(10,57.5)(20,58.1)(35,58.1)(37.5,58.4)(39,59.5)(40,62.5)(40.8,69)(41.4,76)(41.8,78.2)(42.2,76.5)(42.6,67)(43,50)(43.3,30)(43.6,13)(44,10)(44.6,10)(45.3,12)(46,10)(46.7,15)(47.3,9)(48,13)(48.5,25)(48.8,10)(49.5,13)(50.1,7)(50.6,18)(50.9,35)(51.1,18)(51.3,5)(52.5,4)(55.2,2.5)};
\addplot[cYg] coordinates {(0,5)(0.5,3)(0.9,2.8)(1.2,10)(1.5,27.5)(1.8,36)(2.2,41.5)(3,47)(4,51)(5,53.8)(7,56.2)(10,57.5)(20,58.1)(35,58.1)(37.5,58.5)(39,59.5)(40,62.5)(40.8,69)(41.4,76)(41.8,78)(42.2,76.5)(42.6,67)(43,50)(43.3,30)(43.6,13)(44,10)(44.7,11)(45.4,10)(46.1,12)(46.8,11)(47.4,20)(47.7,10)(48.4,14)(49.1,12)(49.8,15)(50.3,11)(50.6,16)(50.9,28)(51.1,18)(51.3,5)(52.5,4)(55.2,2.5)};
\addplot[cOr] coordinates {(0,5)(0.5,3)(0.9,2.8)(1.2,10)(1.5,27)(1.8,35)(2.2,40)(3,46)(4,50.5)(5,53.5)(7,56)(10,57.4)(20,58.1)(35,58.2)(37.5,58.5)(39,59.5)(40,62.5)(40.8,69)(41.4,76)(41.8,78)(42.2,76.5)(42.6,67)(43,50)(43.3,30)(43.6,13)(44,10)(45,10.5)(46,11)(46.5,12)(47,15)(48,15)(49,15.5)(50,15)(50.5,18)(50.9,30)(51.1,18)(51.3,5)(52.5,4)(55.2,2.5)};
\blackframe
\end{axis}

% ---------------- F ----------------
\begin{axis}[turbi, at={(431pt,-760pt)}, width=373pt, height=267pt, xmax=55.1, ymin=-4, ymax=65.2,
  ytick={0,5,...,65}, yticklabels={0\%,5\%,10\%,15\%,20\%,25\%,30\%,35\%,40\%,45\%,50\%,55\%,60\%,65\%}]
\addplot[cPu] coordinates {(0,5)(0.4,3.5)(0.6,3)(0.9,8)(1.2,25)(1.5,45)(1.8,51)(2.3,53.5)(3,55.3)(4,56.8)(5,57.5)(7,58.3)(10,58.8)(20,59)(30,59)(37,58.8)(39,58.3)(40,57.5)(41,56.2)(42,54)(42.8,50)(43.3,44)(43.8,30)(44.3,15)(44.7,7)(45.1,4.5)(45.5,10)(46,12)(47,13)(48,14)(49,15)(50,16)(50.5,17)(50.8,35)(51,20)(51.2,5)(52,4)(53,3)(55.1,2.5)};
\addplot[cTe] coordinates {(0,5)(0.4,3.5)(0.6,3)(0.9,8)(1.2,25)(1.5,45)(1.8,51)(2.3,53.5)(3,55.3)(4,56.8)(5,57.5)(7,58.3)(10,58.8)(20,59)(30,59)(37,58.8)(39,58.3)(40,57.5)(41,56.2)(42,54)(42.8,50)(43.3,44)(43.8,30)(44.3,15)(44.7,7)(45.1,6)(45.4,13)(45.8,10)(46.2,18)(46.6,12)(47.1,21)(47.6,13)(48.2,17)(48.7,11)(49.3,15)(49.9,9)(50.4,18)(50.8,38)(51,22)(51.2,5)(52,4)(53,3)(55.1,2.5)};
\addplot[cGr] coordinates {(0,5)(0.4,3.5)(0.6,3)(0.9,8)(1.2,25)(1.5,45)(1.8,51)(2.3,53.5)(3,55.3)(4,56.8)(5,57.5)(7,58.3)(10,58.8)(20,59)(30,59)(37,58.8)(39,58.3)(40,57.5)(41,56.2)(42,54)(42.8,50)(43.3,44)(43.8,30)(44.3,15)(44.7,7)(45,7)(45.3,14)(45.7,12)(46.2,25)(46.6,14)(47,8)(47.5,19)(48,12)(48.4,23)(48.9,10)(49.5,20)(50,6)(50.4,20)(50.8,47)(51,25)(51.2,5)(52,4)(53,3)(55.1,2.5)};
\addplot[cLg] coordinates {(0,5)(0.4,3.5)(0.6,3)(0.9,8)(1.2,25)(1.5,45)(1.8,51.2)(2.3,53.7)(3,55.5)(4,57)(5,57.7)(7,58.5)(10,59)(20,59.2)(30,59.2)(37,59)(39,58.4)(40,57.6)(41,56.2)(42,54)(42.8,50)(43.3,44)(43.8,30)(44.3,15)(44.7,7)(45,6)(45.5,12)(46,17)(46.5,11)(47,14)(47.6,10)(48.2,16)(48.8,12)(49.4,18)(50,10)(50.5,21)(50.8,30)(51.1,6)(52,4)(53,3)(55.1,2.5)};
\addplot[cOl] coordinates {(0,5)(0.4,3.5)(0.6,3)(0.9,8)(1.2,25)(1.5,45)(1.8,51.3)(2.3,53.8)(3,55.6)(4,57.1)(5,57.8)(7,58.6)(10,59.1)(20,59.3)(30,59.3)(37,59)(39,58.5)(40,57.7)(41,56.3)(42,54)(42.8,50)(43.3,44)(43.8,30)(44.3,15)(44.7,7)(45,6.5)(45.4,14)(45.9,11)(46.4,16)(47,12)(47.6,17)(48.2,13)(48.8,15)(49.4,12)(50,16)(50.5,14)(50.8,28)(51.1,6)(52,4)(53,3)(55.1,2.5)};
\addplot[cOr] coordinates {(0,5)(0.4,3.5)(0.6,3)(0.9,8)(1.2,25)(1.5,45)(1.8,51.2)(2.3,53.7)(3,55.5)(4,57)(5,57.7)(7,58.5)(10,59)(20,59.3)(30,59.3)(37,59)(39,58.4)(40,57.6)(41,56.2)(42,54)(42.8,50)(43.3,44)(43.8,30)(44.3,15)(44.7,7)(45,6)(45.4,12)(46,14)(46.5,13)(47,15)(48,15.5)(49,15.5)(50,16)(50.5,17)(50.8,36)(51,20)(51.2,5)(52,4)(53,3)(55.1,2.5)};
\blackframe
\end{axis}

% ---- panel letters ----
\foreach \xa/\ya/\xb/\yb/\lab in {32/87/107/153/A, 725/87/801/147/B, 36/420/111/486/C, 726/422/801/481/D, 31/760/107/809/E, 725/762/801/821/F}{
  \filldraw[fill=white, draw=black, line width=1.4pt] (\xa pt,-\ya pt) rectangle (\xb pt,-\yb pt);
  \node[font=\fontsize{22.7}{24}\selectfont, inner sep=0] at ({(\xa+\xb)/2*1pt},{-(\ya+\yb)/2*1pt+3pt}) {\lab};
}

% ---- row/column headers ----
\foreach \xa/\ya/\xb/\yb/\lab in {158/10/260/70/10, 578/10/680/70/30, 811/178/901/238/CM, 812/518/901/576/CH, 810/866/901/924/200}{
  \draw[black, line width=1.5pt] (\xa pt,-\ya pt) rectangle (\xb pt,-\yb pt);
  \node[font=\fontsize{31}{32}\selectfont\bfseries, inner sep=0] at ({(\xa+\xb)/2*1pt},{-(\ya+\yb)/2*1pt}) {\lab};
}
\end{tikzpicture}
\end{document}
